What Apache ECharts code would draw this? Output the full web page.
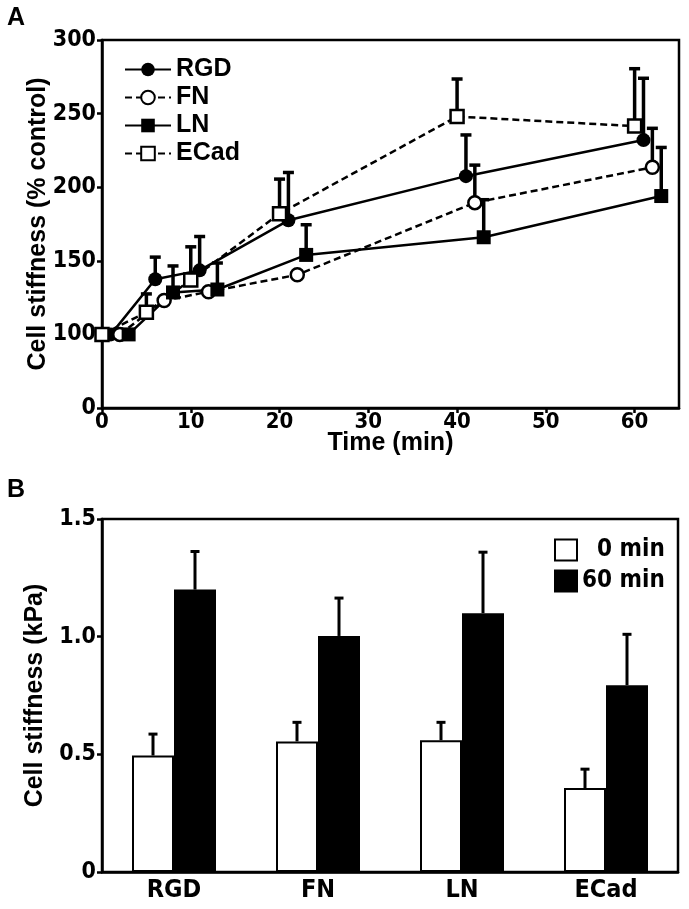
<!DOCTYPE html>
<html><head><meta charset="utf-8">
<script src="https://cdn.jsdelivr.net/npm/echarts@6/dist/echarts.min.js"></script>
<style>html,body{margin:0;padding:0;background:#fff}#c{width:689px;height:909px}</style>
</head><body><div id="c"></div>
<script>
// ---- Panel A data (time course, % control) ----
const timePoints = [0, 5, 10, 20, 40, 60];
const seriesNames = ['RGD', 'FN', 'LN', 'ECad'];
const rgdValues  = [100, 137.5, 143.5, 177.5, 207.5, 232];
const rgdSem     = [null, 15, 23, 32.5, 28, 42];
const fnValues   = [100, 123, 129, 140.5, 189.5, 213.5];
const fnSem      = [null, null, null, null, 25.5, 26.5];
const lnValues   = [100, 128.5, 130.5, 154, 166, 194];
const lnSem      = [null, 18, 18, 20.5, 25.5, 33];
const ecadValues = [100, 115, 137, 182, 248, 241.5];
const ecadSem    = [null, 12.5, 22.5, 23.5, 25.5, 39];
// time offsets used in the figure to separate overlapping groups (min)
const timeShift = {RGD: 1, FN: 2, LN: 3, ECad: 0};
const xTicksA = [0, 10, 20, 30, 40, 50, 60];

// ---- Panel B data (kPa) ----
const categoriesB = ['RGD', 'FN', 'LN', 'ECad'];
const legendB = ['0 min', '60 min'];
const kpa0   = [0.495, 0.555, 0.56, 0.357];
const sem0   = [0.091, 0.081, 0.076, 0.08];
const kpa60  = [1.2, 1.003, 1.1, 0.794];
const sem60  = [0.162, 0.161, 0.259, 0.216];

const NARROW = "'Liberation Sans Narrow','DejaVu Sans Condensed','Liberation Sans',Arial,sans-serif";
const SANS = "'Liberation Sans',Arial,sans-serif";

const chart = echarts.init(document.getElementById('c'), null, {renderer: 'canvas'});

const valsA = {RGD: rgdValues, FN: fnValues, LN: lnValues, ECad: ecadValues};
const semA = {RGD: rgdSem, FN: fnSem, LN: lnSem, ECad: ecadSem};
const styleA = {
  RGD:  {symbol: 'circle', fill: '#000', dash: 'solid', size: 14},
  FN:   {symbol: 'circle', fill: '#fff', dash: [7, 4], size: 13},
  LN:   {symbol: 'rect',   fill: '#000', dash: 'solid', size: 14},
  ECad: {symbol: 'rect',   fill: '#fff', dash: [7, 4], size: 13}
};

function errTopA(params, api) {
  const x = api.value(0), v = api.value(1), t = api.value(2);
  const p0 = api.coord([x, v]), p1 = api.coord([x, t]);
  return {type: 'group', children: [
    {type: 'line', shape: {x1: p0[0], y1: p0[1], x2: p1[0], y2: p1[1]}, style: {stroke: '#000', lineWidth: 3.5}},
    {type: 'line', shape: {x1: p1[0] - 5.5, y1: p1[1], x2: p1[0] + 5.5, y2: p1[1]}, style: {stroke: '#000', lineWidth: 3.5}}
  ]};
}

const series = [];
seriesNames.forEach(function (n) {
  const errData = [];
  timePoints.forEach(function (t, i) {
    if (semA[n][i] != null) errData.push([t + timeShift[n], valsA[n][i], valsA[n][i] + semA[n][i]]);
  });
  series.push({
    type: 'custom', name: n + ' err', xAxisIndex: 0, yAxisIndex: 0, z: 1,
    renderItem: errTopA, data: errData, encode: {x: 0, y: [1, 2]}
  });
});
seriesNames.forEach(function (n) {
  const s = styleA[n];
  series.push({
    type: 'line', name: n, xAxisIndex: 0, yAxisIndex: 0, z: 3,
    data: timePoints.map(function (t, i) { return [t + timeShift[n], valsA[n][i]]; }),
    symbol: s.symbol, symbolSize: s.size, showAllSymbol: true,
    lineStyle: {color: '#000', width: 2.5, type: s.dash},
    itemStyle: {color: s.fill, borderColor: '#000', borderWidth: s.fill === '#fff' ? 2.5 : 0},
    emphasis: {disabled: true}, animation: false
  });
});

// Panel B bars
const BARW = 42;
series.push({
  type: 'bar', name: '0 min', xAxisIndex: 1, yAxisIndex: 1, data: kpa0,
  barWidth: BARW, barGap: '0%',
  itemStyle: {color: '#fff', borderColor: '#000', borderWidth: 2}, animation: false
});
series.push({
  type: 'bar', name: '60 min', xAxisIndex: 1, yAxisIndex: 1, data: kpa60,
  barWidth: BARW, barGap: '0%',
  itemStyle: {color: '#000', borderColor: '#000', borderWidth: 2}, animation: false
});
function errB(offsetSign) {
  return function (params, api) {
    const c = api.value(0), v = api.value(1), t = api.value(2);
    const p0 = api.coord([c, v]), p1 = api.coord([c, t]);
    const x = p0[0] + offsetSign * BARW / 2;
    return {type: 'group', children: [
      {type: 'line', shape: {x1: x, y1: p0[1], x2: x, y2: p1[1]}, style: {stroke: '#000', lineWidth: 3}},
      {type: 'line', shape: {x1: x - 4.5, y1: p1[1], x2: x + 4.5, y2: p1[1]}, style: {stroke: '#000', lineWidth: 3}}
    ]};
  };
}
series.push({
  type: 'custom', xAxisIndex: 1, yAxisIndex: 1, z: 1, renderItem: errB(-1),
  data: categoriesB.map(function (c, i) { return [i, kpa0[i], kpa0[i] + sem0[i]]; })
});
series.push({
  type: 'custom', xAxisIndex: 1, yAxisIndex: 1, z: 1, renderItem: errB(1),
  data: categoriesB.map(function (c, i) { return [i, kpa60[i], kpa60[i] + sem60[i]]; })
});

const axisLine = {show: true, lineStyle: {color: '#000', width: 2.5}};
const axisTick = {show: true, length: 5, lineStyle: {color: '#000', width: 2.5}};
const lab = {color: '#000', fontFamily: NARROW, fontWeight: 'bold', fontSize: 23};
const titleStyle = {color: '#000', fontFamily: SANS, fontWeight: 'bold', fontSize: 25};

chart.setOption({
  animation: false,
  graphic: [
    {type: 'text', left: 7, top: 6, style: {text: 'A', font: 'bold 25px ' + SANS, fill: '#000'}},
    {type: 'text', left: 7, top: 478, style: {text: 'B', font: 'bold 25px ' + SANS, fill: '#000'}}
  ],
  grid: [
    {left: 102, top: 40, right: 10, bottom: 501, show: true, borderColor: '#000', borderWidth: 2.5},
    {left: 102, top: 519, right: 11, bottom: 37, show: true, borderColor: '#000', borderWidth: 2.5}
  ],
  legend: [
    {
      data: seriesNames, orient: 'vertical', left: 119, top: 52, itemWidth: 46, itemHeight: 17, itemGap: 3,
      textStyle: {color: '#000', fontFamily: SANS, fontWeight: 'bold', fontSize: 25, padding: [0, 0, 0, 0]},
      selectedMode: false
    },
    {
      data: legendB, orient: 'vertical', left: 549, top: 533, itemWidth: 22, itemHeight: 21, itemGap: 7,
      icon: 'rect',
      textStyle: {color: '#000', fontFamily: NARROW, fontWeight: 'bold', fontSize: 24},
      formatter: function (n) { return n === '0 min' ? '  0 min' : n; },
      selectedMode: false
    }
  ],
  xAxis: [
    {
      type: 'value', gridIndex: 0, min: 0, max: 65, interval: 10,
      name: 'Time (min)', nameLocation: 'middle', nameGap: 23, nameMoveOverlap: false,
      nameTextStyle: titleStyle,
      axisLine: axisLine, axisTick: Object.assign({customValues: xTicksA}, axisTick),
      axisLabel: Object.assign({customValues: xTicksA, margin: 3}, lab, {fontSize: 22}), splitLine: {show: false}
    },
    {
      type: 'category', gridIndex: 1, data: categoriesB,
      axisLine: axisLine, axisTick: {show: false},
      axisLabel: Object.assign({margin: 6}, lab, {fontSize: 25}), splitLine: {show: false}
    }
  ],
  yAxis: [
    {
      type: 'value', gridIndex: 0, min: 50, max: 300, interval: 50,
      name: 'Cell stiffness (% control)', nameLocation: 'middle', nameGap: 51, nameMoveOverlap: false,
      nameTextStyle: titleStyle,
      axisLine: axisLine, axisTick: axisTick,
      axisLabel: Object.assign({margin: 6, formatter: function (v) { return v === 50 ? '0' : String(v); }}, lab),
      splitLine: {show: false}
    },
    {
      type: 'value', gridIndex: 1, min: 0, max: 1.5, interval: 0.5,
      name: 'Cell stiffness (kPa)', nameLocation: 'middle', nameGap: 54, nameMoveOverlap: false,
      nameTextStyle: titleStyle,
      axisLine: axisLine, axisTick: axisTick,
      axisLabel: Object.assign({margin: 6, formatter: function (v) { return v === 0 ? '0' : v.toFixed(1); }}, lab),
      splitLine: {show: false}
    }
  ],
  series: series
});
</script>
</body></html>
